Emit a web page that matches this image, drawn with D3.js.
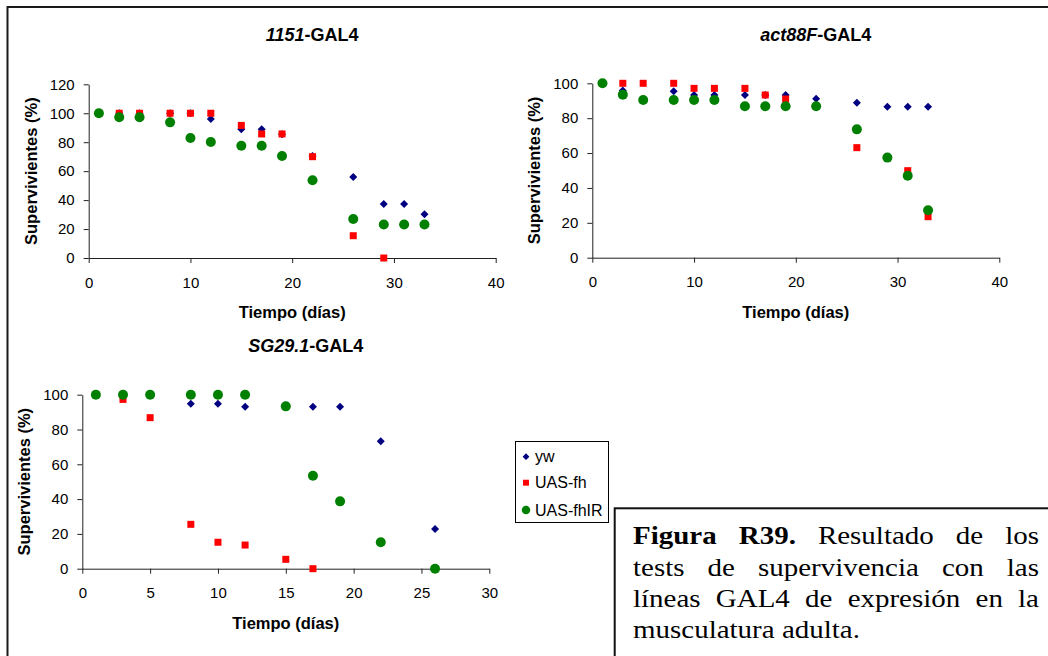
<!DOCTYPE html>
<html>
<head>
<meta charset="utf-8">
<script src="https://cdn.jsdelivr.net/npm/d3@7"></script>
<style>
  html, body { margin: 0; padding: 0; background: #fff; }
  svg { display: block; }
  .tick text { font-family: "Liberation Sans", Arial, sans-serif; font-size: 15px; fill: #000; }
  .tick line, .domain { stroke: #222; }
</style>
</head>
<body>
<svg id="fig" width="1048" height="656"></svg>
<script>
// Survival (%) over time (days) for three GAL4 driver lines
const days1151 = [1, 3, 5, 8, 10, 12, 15, 17, 19, 22, 26, 29, 31, 33];
const yw1151   = [100, 100, 100, 100, 100, 96, 89, 89, 85.5, 70.5, 56, 37.3, 37.3, 30.2];
const fh1151   = [100, 100, 100, 100, 100, 100, 91.6, 85.7, 85.7, 70, 15.4, 0, null, null];
const fhIR1151 = [100, 97.2, 97.2, 93.7, 82.9, 80.1, 77.6, 77.6, 70.5, 53.7, 26.9, 23.2, 23.2, 23.2];

const daysAct  = [1, 3, 5, 8, 10, 12, 15, 17, 19, 22, 26, 29, 31, 33];
const ywAct    = [100, 95.8, null, 95.4, 93.3, 93.3, 93.3, 93.3, 93.3, 91.2, 88.9, 86.6, 86.6, 86.6];
const fhAct    = [null, 100, 100, 100, 97.1, 97.1, 97.1, 93.3, 91, null, 63.1, null, 49.9, 23.5];
const fhIRAct  = [100, 93.5, 90.4, 90.4, 90.4, 90.4, 86.8, 86.8, 86.8, 86.8, 73.6, 57.4, 47.0, 27.2];

const daysSG   = [1, 3, 5, 8, 10, 12, 15, 17, 19, 22, 26];
const ywSG     = [100, 100, 100, 94.8, 94.8, 93.1, 93.1, 93.1, 93.1, 73.2, 22.8];
const fhSG     = [100, 97.3, 86.8, 25.5, 15.2, 13.6, 5.4, 0, null, null, null];
const fhIRSG   = [100, 100, 100, 100, 100, 100, 93.3, 53.4, 38.7, 15.2, 0];

const seriesNames = ["yw", "UAS-fh", "UAS-fhIR"];
const xTicks1151 = [0, 10, 20, 30, 40];
const yTicks1151 = [0, 20, 40, 60, 80, 100, 120];
const xTicksAct  = [0, 10, 20, 30, 40];
const yTicksAct  = [0, 20, 40, 60, 80, 100];
const xTicksSG   = [0, 5, 10, 15, 20, 25, 30];
const yTicksSG   = [0, 20, 40, 60, 80, 100];

const captionLines = [
  [["Figura", true], ["R39.", true], ["Resultado"], ["de"], ["los"]],
  [["tests"], ["de"], ["supervivencia"], ["con"], ["las"]],
  [["líneas"], ["GAL4"], ["de"], ["expresión"], ["en"], ["la"]],
  [["musculatura"], ["adulta."]]
];

const colors = { "yw": "#000080", "UAS-fh": "#ff0000", "UAS-fhIR": "#008000" };
const SANS = '"Liberation Sans", Arial, sans-serif';
const SERIF = '"Liberation Serif", "Times New Roman", serif';

const svg = d3.select("#fig");
svg.append("rect").attr("width", 1048).attr("height", 656).attr("fill", "#fff");

// outer frame around the figure
svg.append("rect")
  .attr("x", 7.5).attr("y", 7).attr("width", 1100).attr("height", 700)
  .attr("fill", "none").attr("stroke", "#1a1a1a").attr("stroke-width", 2);

function marker(sel, name, s) {
  if (name === "yw") {
    sel.append("path").attr("d", `M0,${-s}L${s},0L0,${s}L${-s},0Z`).attr("fill", colors[name]);
  } else if (name === "UAS-fh") {
    sel.append("rect").attr("x", -s * 0.875).attr("y", -s * 0.875)
      .attr("width", s * 1.75).attr("height", s * 1.75).attr("fill", colors[name]);
  } else {
    sel.append("circle").attr("r", s * 1.25).attr("fill", colors[name]);
  }
}

function panel(cfg) {
  const x = d3.scaleLinear().domain(cfg.xDomain).range(cfg.xRange);
  const y = d3.scaleLinear().domain(cfg.yDomain).range(cfg.yRange);
  const g = svg.append("g");

  g.append("g").attr("transform", `translate(0,${cfg.yRange[0]})`)
    .call(d3.axisBottom(x).tickValues(cfg.xTicks).tickSize(5).tickSizeOuter(0).tickPadding(14))
    .call(a => a.select(".domain").attr("stroke", "#222"));
  g.append("g").attr("transform", `translate(${cfg.xRange[0]},0)`)
    .call(d3.axisLeft(y).tickValues(cfg.yTicks).tickSize(5).tickSizeOuter(0).tickPadding(9));

  // panel title: italic driver name + "-GAL4"
  const t = g.append("text")
    .attr("x", (cfg.xRange[0] + cfg.xRange[1]) / 2 + 20).attr("y", cfg.titleY)
    .attr("text-anchor", "middle").attr("font-family", SANS)
    .attr("font-size", 18).attr("font-weight", "bold");
  t.append("tspan").attr("font-style", "italic").text(cfg.driver);
  t.append("tspan").text("-GAL4");

  g.append("text")
    .attr("x", (cfg.xRange[0] + cfg.xRange[1]) / 2).attr("y", cfg.yRange[0] + 60.3)
    .attr("text-anchor", "middle").attr("font-family", SANS)
    .attr("font-size", 16.5).attr("font-weight", "bold").text("Tiempo (días)");

  const cy = (cfg.yRange[0] + cfg.yRange[1]) / 2;
  g.append("text")
    .attr("transform", `translate(${cfg.xRange[0] - 52},${cy}) rotate(-90)`)
    .attr("text-anchor", "middle").attr("font-family", SANS)
    .attr("font-size", 16.5).attr("font-weight", "bold").text("Supervivientes (%)");

  cfg.series.forEach((vals, i) => {
    const name = seriesNames[i];
    const pts = cfg.days.map((d, j) => ({ d, v: vals[j] })).filter(p => p.v !== null);
    g.append("g").selectAll("g").data(pts).join("g")
      .attr("transform", p => `translate(${x(p.d)},${y(p.v)})`)
      .each(function () { marker(d3.select(this), name, 4); });
  });
}

panel({
  driver: "1151", days: days1151, series: [yw1151, fh1151, fhIR1151],
  xDomain: [0, 40], xRange: [88.7, 495.7], yDomain: [0, 120], yRange: [258, 84.3],
  xTicks: xTicks1151, yTicks: yTicks1151, titleY: 40.5
});
panel({
  driver: "act88F", days: daysAct, series: [ywAct, fhAct, fhIRAct],
  xDomain: [0, 40], xRange: [592.3, 999.3], yDomain: [0, 100], yRange: [257.7, 83.3],
  xTicks: xTicksAct, yTicks: yTicksAct, titleY: 40.5
});
panel({
  driver: "SG29.1", days: daysSG, series: [ywSG, fhSG, fhIRSG],
  xDomain: [0, 30], xRange: [82.3, 489.3], yDomain: [0, 100], yRange: [568.7, 394.7],
  xTicks: xTicksSG, yTicks: yTicksSG, titleY: 351.5
});

// legend
const lg = svg.append("g");
lg.append("rect").attr("x", 515.5).attr("y", 441.5).attr("width", 93).attr("height", 81)
  .attr("fill", "#fff").attr("stroke", "#000").attr("stroke-width", 1);
seriesNames.forEach((name, i) => {
  const yy = [456.7, 482.7, 510][i];
  const item = lg.append("g").attr("transform", `translate(526,${yy})`);
  marker(item, name, 3.4);
  lg.append("text").attr("x", 535).attr("y", yy + 5.6)
    .attr("font-family", SANS).attr("font-size", 16).text(name);
});

// caption box with justified text
svg.append("rect").attr("x", 614.7).attr("y", 508.3).attr("width", 500).attr("height", 200)
  .attr("fill", "#fff").attr("stroke", "#111").attr("stroke-width", 2);

const capFs = 24.5, capLeft = 633, capWidth = 406, lastWidth = 227;
const baselines = [544.3, 575.7, 607, 638.3];
const cap = svg.append("g");
const inner = cap.append("g");
const lineWords = captionLines.map((words, li) => words.map(([w, b]) =>
  inner.append("text").attr("y", baselines[li]).attr("font-family", SERIF)
    .attr("font-size", capFs).attr("font-weight", b ? "bold" : "normal").text(w)));
const space = capFs * 0.25;
const widths = lineWords.map(ws => ws.map(t => t.node().getComputedTextLength()));
const lastNat = d3.sum(widths[3]) + space * (widths[3].length - 1);
const sx = lastWidth / lastNat;
inner.attr("transform", `translate(${capLeft},0) scale(${sx},1)`);
lineWords.forEach((ws, li) => {
  const total = d3.sum(widths[li]);
  const gap = li < 3 ? (capWidth / sx - total) / (ws.length - 1) : space;
  let xx = 0;
  ws.forEach((t, k) => { t.attr("x", xx); xx += widths[li][k] + gap; });
});
</script>
</body>
</html>
